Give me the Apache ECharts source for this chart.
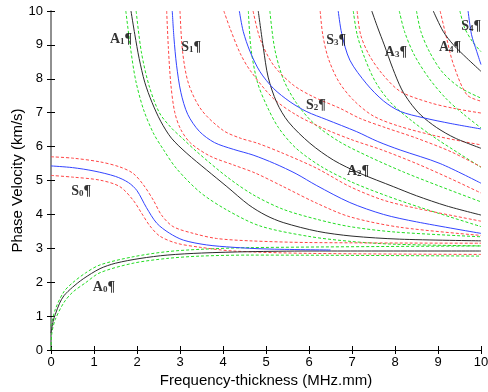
<!DOCTYPE html>
<html>
<head>
<meta charset="utf-8">
<script src="https://cdn.jsdelivr.net/npm/echarts@6/dist/echarts.min.js"></script>
<style>
  html, body { margin: 0; padding: 0; background: #fff; }
  #chart { width: 488px; height: 392px; }
</style>
</head>
<body>
<div id="chart"></div>
<script>
// x: frequency-thickness (MHz.mm), y: phase velocity (km/s)
// antisymmetric modes (black) with green bounds
const A0 = [[0,0.5],[0.05,0.85],[0.1,1.05],[0.2,1.38],[0.3,1.6],[0.5,1.85],[0.75,2.1],[1.14,2.4],[1.5,2.56],[2.07,2.7],[2.7,2.8],[3.5,2.86],[4.6,2.9],[6,2.92],[10,2.92]];
const A0_up = [[0,0.7],[0.1,1.2],[0.3,1.72],[0.5,1.98],[0.8,2.27],[1.14,2.51],[1.91,2.75],[2.69,2.9],[3.47,2.97],[4.63,3.02],[10,3.07]];
const A0_lo = [[0,0],[0.02,0.5],[0.1,0.9],[0.3,1.4],[0.5,1.7],[0.8,1.98],[1.14,2.28],[1.91,2.56],[2.69,2.7],[3.47,2.77],[4.63,2.8],[10,2.77]];

const A1 = [[1.86,10],[1.95,9.3],[2.05,8.6],[2.18,7.9],[2.35,7.3],[2.55,6.75],[2.8,6.25],[3.16,5.8],[3.62,5.31],[4.09,4.82],[4.6,4.28],[5.0,3.97],[5.4,3.76],[6.2,3.5],[7,3.36],[8.1,3.27],[10,3.22]];
const A1_L = [[1.74,10],[1.85,8.9],[1.97,7.95],[2.15,7.1],[2.38,6.4],[2.62,5.9],[2.92,5.35],[3.47,4.65],[4.09,4.13],[4.86,3.66],[6,3.35],[7,3.2],[8,3.12],[10,3.07]];
const A1_R = [[1.98,10],[2.1,8.8],[2.28,7.8],[2.52,7.0],[2.8,6.55],[3.05,6.25],[3.39,5.85],[4.09,5.11],[4.7,4.58],[5.4,4.15],[6.2,3.85],[6.95,3.64],[8,3.48],[10,3.34]];

const A2 = [[4.82,10],[4.94,8.9],[5.05,8.05],[5.25,7.3],[5.52,6.73],[6.02,6.1],[6.57,5.6],[7.19,5.21],[7.96,4.82],[8.5,4.55],[9.2,4.25],[10,3.98]];
const A2_L = [[4.59,10],[4.65,8.9],[4.8,7.9],[5.02,7.2],[5.29,6.56],[5.7,5.95],[6.3,5.4],[7.0,4.95],[7.8,4.55],[8.6,4.2],[10,3.64]];
const A2_R = [[5.09,10],[5.2,8.9],[5.4,8.0],[5.7,7.3],[6.1,6.7],[6.7,6.15],[7.4,5.7],[8.2,5.25],[9.0,4.85],[10,4.37]];

const A3 = [[7.46,10],[7.6,9.5],[7.75,9.0],[7.95,8.3],[8.15,7.7],[8.35,7.3],[8.6,6.93],[8.97,6.56],[9.4,6.25],[10,5.95]];
const A3_L = [[7.03,10],[7.12,9.3],[7.3,8.6],[7.55,7.9],[7.9,7.3],[8.4,6.75],[9.0,6.2],[10,5.39]];
const A3_R = [[8.1,10],[8.22,9.4],[8.45,8.7],[8.8,8.0],[9.2,7.4],[9.6,6.95],[10,6.55]];

const A4 = [[8.89,10],[9.12,9.4],[9.36,9.0],[9.67,8.61],[10,8.22]];
const A4_L = [[8.5,10],[8.6,9.4],[8.8,8.8],[9.1,8.2],[9.5,7.75],[10,7.43]];
const A4_R = [[9.51,10],[9.62,9.5],[9.8,9.1],[10,8.8]];

// symmetric modes (blue) with red bounds
const S0 = [[0,5.43],[0.5,5.38],[1,5.28],[1.5,5.12],[1.8,4.94],[2.0,4.7],[2.22,4.2],[2.46,3.74],[2.75,3.45],[3.08,3.24],[3.62,3.1],[4.23,3.03],[5,2.98],[6.5,2.95]];
const S0_up = [[0,5.7],[0.5,5.66],[1.14,5.55],[1.6,5.4],[1.91,5.21],[2.15,4.87],[2.38,4.42],[2.57,3.98],[2.84,3.64],[3.31,3.44],[3.85,3.29],[4.63,3.22],[6,3.17],[10,3.15]];
const S0_lo = [[0,5.15],[0.5,5.1],[1.14,5.01],[1.6,4.82],[1.91,4.42],[2.11,4.03],[2.3,3.66],[2.53,3.36],[2.92,3.15],[3.47,3.03],[4.24,2.92],[6,2.85],[10,2.82]];

const S1 = [[2.82,10],[2.86,9.2],[2.92,8.4],[3.02,7.6],[3.18,6.95],[3.45,6.45],[3.8,6.12],[4.24,5.92],[4.7,5.75],[5.2,5.5],[5.7,5.2],[6.18,4.85],[6.95,4.35],[7.73,4.0],[8.5,3.78],[10,3.44]];
const S1_L = [[2.69,10],[2.73,8.9],[2.79,7.8],[2.88,7.0],[3.02,6.5],[3.25,6.1],[3.7,5.72],[4.24,5.46],[4.75,5.22],[5.4,4.82],[6.18,4.33],[6.95,3.93],[8.12,3.62],[10,3.38]];
const S1_R = [[3.0,10],[3.06,8.8],[3.2,7.85],[3.5,7.08],[4.0,6.48],[4.4,6.25],[4.8,6.1],[5.4,5.8],[6.18,5.36],[6.95,4.82],[7.73,4.42],[8.5,4.18],[10,3.8]];

const S2 = [[4.38,10],[4.47,9.4],[4.63,8.8],[4.86,8.21],[5.17,7.72],[5.56,7.32],[5.95,7.03],[6.4,6.8],[7.11,6.44],[7.6,6.15],[8.12,5.9],[9.05,5.5],[10,4.92]];
const S2_L = [[4.02,10],[4.16,9.5],[4.4,8.75],[4.63,8.25],[5.17,7.42],[5.71,6.93],[6.33,6.54],[7.0,6.2],[7.7,5.9],[8.5,5.5],[9.3,5.05],[10,4.63]];
const S2_R = [[4.7,10],[4.86,9.19],[5.17,8.41],[5.63,7.82],[6.1,7.47],[6.72,7.13],[7.19,6.83],[7.8,6.55],[8.5,6.25],[9.3,5.85],[10,5.4]];

const S3 = [[6.68,10],[6.76,9.34],[6.95,8.55],[7.34,7.85],[7.73,7.35],[8.12,7.04],[8.66,6.85],[9.3,6.68],[10,6.52]];
const S3_L = [[6.26,10],[6.32,9.3],[6.45,8.6],[6.7,7.9],[7.05,7.35],[7.5,6.9],[8.1,6.6],[9.0,6.3],[10,6.05]];
const S3_R = [[7.12,10],[7.2,9.3],[7.4,8.7],[7.7,8.15],[8.12,7.63],[8.8,7.3],[9.4,7.12],[10,6.99]];

const S4 = [[9.7,10],[9.78,9.3],[9.9,8.81],[10,8.42]];
const S4_L = [[9.05,10],[9.2,9.2],[9.36,8.42],[9.67,7.53],[10,7.34]];

// mode labels: letter, subscript, position
const labelText = ['A','A','A','A','A','S','S','S','S','S'];
const labelSub = ['0','1','2','3','4','0','1','2','3','4'];
const labelPos = [[1.23,1.86],[1.63,9.17],[7.14,5.28],[8.02,8.79],[9.28,8.94],[0.7,4.69],[3.26,8.94],[6.16,7.23],[6.63,9.14],[9.77,9.56]];

const xTicks = [0,1,2,3,4,5,6,7,8,9,10];
const yTicks = [0,1,2,3,4,5,6,7,8,9,10];

const BLACK = '#2b2b2b', BLUE = '#3344ff', RED = '#ff4444', GREEN = '#22dd22';

function curve(data, color, dashed) {
  return {
    type: 'line',
    data: data,
    smooth: 0.3,
    showSymbol: false,
    silent: true,
    z: dashed ? 2 : 3,
    lineStyle: { color: color, width: 1, type: dashed ? [3, 2] : 'solid' },
  };
}

const series = [
  curve(A0_up, GREEN, true), curve(A0_lo, GREEN, true),
  curve(A1_L, GREEN, true), curve(A1_R, GREEN, true),
  curve(A2_L, GREEN, true), curve(A2_R, GREEN, true),
  curve(A3_L, GREEN, true), curve(A3_R, GREEN, true),
  curve(A4_L, GREEN, true), curve(A4_R, GREEN, true),
  curve(S0_up, RED, true), curve(S0_lo, RED, true),
  curve(S1_L, RED, true), curve(S1_R, RED, true),
  curve(S2_L, RED, true), curve(S2_R, RED, true),
  curve(S3_L, RED, true), curve(S3_R, RED, true),
  curve(S4_L, RED, true),
  curve(A0, BLACK), curve(A1, BLACK), curve(A2, BLACK), curve(A3, BLACK), curve(A4, BLACK),
  curve(S0, BLUE), curve(S1, BLUE), curve(S2, BLUE), curve(S3, BLUE), curve(S4, BLUE),
  {
    type: 'scatter',
    symbolSize: 0,
    silent: true,
    z: 5,
    data: labelPos.map((p, i) => ({ value: p, name: labelText[i] + '|' + labelSub[i] })),
    label: {
      show: true,
      position: 'inside',
      formatter: (p) => {
        const [t, s] = p.name.split('|');
        return '{m|' + t + '}{s|' + s + '}{p|¶}';
      },
      rich: {
        m: { fontFamily: 'Liberation Serif', fontWeight: 'bold', fontSize: 14, color: '#000' },
        s: { fontFamily: 'Liberation Serif', fontWeight: 'bold', fontSize: 9, color: '#000', padding: [6, 0, 0, 0] },
        p: { fontFamily: 'Liberation Serif', fontWeight: 'bold', fontSize: 14, color: '#000' },
      },
    },
  },
];

const axisFont = { fontFamily: 'Liberation Sans', fontSize: 13, color: '#000' };

const option = {
  animation: false,
  backgroundColor: '#fff',
  grid: { left: 51, right: 7, top: 11, bottom: 42, outerBoundsMode: 'none' },
  xAxis: [
    {
      type: 'value', min: 0, max: 10, interval: 1, position: 'bottom',
      name: 'Frequency-thickness (MHz.mm)', nameLocation: 'middle', nameGap: 23, nameMoveOverlap: false,
      nameTextStyle: { fontFamily: 'Liberation Sans', fontSize: 15, color: '#000' },
      axisLine: { show: true, lineStyle: { color: '#000', width: 1 } },
      axisTick: { show: true, inside: true, length: 4, lineStyle: { color: '#000' } },
      axisLabel: Object.assign({ margin: 6, formatter: (v) => xTicks.includes(v) ? String(v) : '' }, axisFont),
      splitLine: { show: false },
    },
    {
      type: 'value', min: 0, max: 10, interval: 1, position: 'top',
      axisLine: { show: true, lineStyle: { color: '#000', width: 1 } },
      axisTick: { show: true, inside: true, length: 4, lineStyle: { color: '#000' } },
      axisLabel: { show: false },
      splitLine: { show: false },
    },
  ],
  yAxis: [
    {
      type: 'value', min: 0, max: 10, interval: 1, position: 'left',
      name: 'Phase Velocity (km/s)', nameLocation: 'middle', nameGap: 26, nameMoveOverlap: false,
      nameTextStyle: { fontFamily: 'Liberation Sans', fontSize: 15, color: '#000' },
      axisLine: { show: true, lineStyle: { color: '#888', width: 1.5 } },
      axisTick: { show: true, inside: true, length: 4, lineStyle: { color: '#000' } },
      axisLabel: Object.assign({ margin: 8, formatter: (v) => yTicks.includes(v) ? String(v) : '' }, axisFont),
      splitLine: { show: false },
    },
    {
      type: 'value', min: 0, max: 10, interval: 1, position: 'right',
      axisLine: { show: true, lineStyle: { color: '#888', width: 1.5 } },
      axisTick: { show: true, inside: true, length: 4, lineStyle: { color: '#000' } },
      axisLabel: { show: false },
      splitLine: { show: false },
    },
  ],
  series: series,
};

const chart = echarts.init(document.getElementById('chart'), null, { renderer: 'canvas' });
chart.setOption(option);
</script>
</body>
</html>
